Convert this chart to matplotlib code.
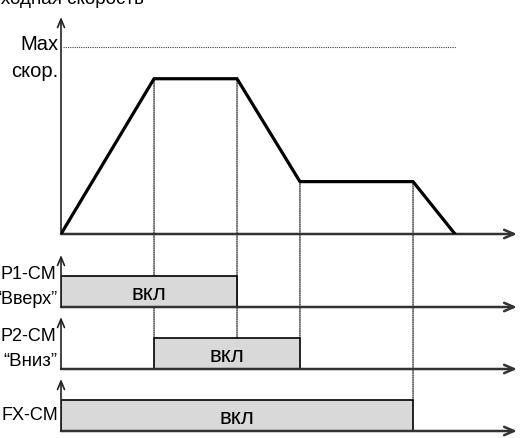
import matplotlib.pyplot as plt
from matplotlib.patches import ConnectionPatch

plt.rcParams['font.family'] = ['Liberation Sans', 'DejaVu Sans']

# профиль скорости
t_speed = [0, 2.04, 3.86, 5.24, 7.72, 8.64]
speed = [0, 83, 83, 28, 28, 0]
v_max = 100

# сигналы на входах
sig_names = ['P1-CM', 'P2-CM', 'FX-CM']
sig_sub = ['“Вверх”', '“Вниз”', '']
sig_start = [0, 2.04, 0]
sig_stop = [3.86, 5.24, 7.72]
on_text = 'вкл'

W, H = 528, 439
fig = plt.figure(figsize=(W / 100, H / 100), dpi=100)


def px_axes(top, bottom, left=61, right=517):
    ax = fig.add_axes([left / W, 1 - bottom / H, (right - left) / W, (bottom - top) / H])
    ax.set_xlim(0, 10)
    ax.axis('off')
    ax.patch.set_visible(False)
    # оси со стрелками
    ax.annotate('', xy=(1, 0), xytext=(0, 0), xycoords='axes fraction',
                arrowprops=dict(arrowstyle='->,head_length=0.7,head_width=0.3',
                                lw=1.8, color='#333333', shrinkA=0, shrinkB=0))
    ax.annotate('', xy=(0, 1), xytext=(0, 0), xycoords='axes fraction',
                arrowprops=dict(arrowstyle='->,head_length=0.6,head_width=0.25',
                                lw=1.2, color='#222222', shrinkA=0, shrinkB=0))
    return ax


def label(y, s, x=56, size=13):
    fig.text(x / W, 1 - y / H, s, ha='right', va='baseline', fontsize=size)


ax_v = px_axes(18, 235)
ax_v.set_ylim(0, 116)
ax_v.plot(t_speed, speed, color='black', lw=2.3, solid_joinstyle='miter', zorder=3)
ax_v.hlines(v_max, 0.05, t_speed[-1] + 0.02, colors='#444444', linestyles=(0, (1, 1)), lw=0.8)

sig_axes = []
for top, bottom in [(256, 308), (318, 370), (380, 432)]:
    ax = px_axes(top, bottom)
    ax.set_ylim(0, 1.7)
    sig_axes.append(ax)

for ax, a, b in zip(sig_axes, sig_start, sig_stop):
    ax.broken_barh([(a, b - a)], (0, 1), facecolors='#d9d9d9', edgecolors='black', lw=1.2, zorder=2)
    ax.text((a + b) / 2, 0.45, on_text, ha='center', va='center', fontsize=16)

# пунктирные вертикали от точек излома
links = [(1, 1), (2, 1), (3, 1), (4, 2)]
for i_pt, i_sig in links:
    t = t_speed[i_pt]
    con = ConnectionPatch(xyA=(t, speed[i_pt]), coordsA=ax_v.transData,
                          xyB=(t, 1), coordsB=sig_axes[i_sig].transData,
                          linestyle=(0, (1, 1)), lw=0.8, color='black', clip_on=False)
    ax_v.add_artist(con)

fig.text(144 / W, 1 - 4 / H, 'Выходная скорость', ha='right', va='baseline', fontsize=13.5)
label(50, 'Max', x=58, size=14.5)
label(77, 'скор.', x=58, size=14.5)
label(279, sig_names[0])
label(304, sig_sub[0], x=57)
label(341, sig_names[1])
label(366, sig_sub[1], x=57, size=13.5)
label(420, sig_names[2], x=58)

fig.savefig('out.png', dpi=100)
